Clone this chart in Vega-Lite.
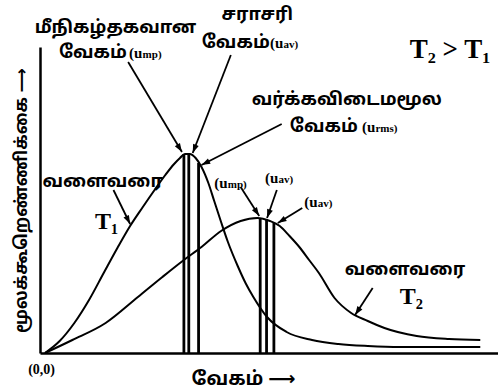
{
  "$schema": "https://vega.github.io/schema/vega-lite/v6.json",
  "width": 458,
  "height": 306,
  "autosize": {"type": "none"},
  "padding": {"left": 40, "top": 47, "right": 0, "bottom": 38},
  "background": "white",
  "config": {
    "view": {"stroke": null},
    "axis": {
      "domain": true, "domainColor": "black", "domainWidth": 2.5,
      "ticks": false, "labels": false, "grid": false,
      "titleFont": "Noto Sans Tamil, DejaVu Sans", "titleFontWeight": "bold", "titleColor": "black",
      "titleAlign": "center", "titleBaseline": "middle"
    }
  },
  "datasets": {
    "curves": [
      {"s": "T1", "x": 0, "y": 0}, {"s": "T1", "x": 15, "y": 12}, {"s": "T1", "x": 30, "y": 30}, {"s": "T1", "x": 45, "y": 53},
      {"s": "T1", "x": 60, "y": 80}, {"s": "T1", "x": 74, "y": 105}, {"s": "T1", "x": 87, "y": 127}, {"s": "T1", "x": 100, "y": 146},
      {"s": "T1", "x": 112, "y": 163}, {"s": "T1", "x": 123, "y": 178}, {"s": "T1", "x": 132, "y": 189}, {"s": "T1", "x": 138, "y": 195},
      {"s": "T1", "x": 143, "y": 199}, {"s": "T1", "x": 148, "y": 199}, {"s": "T1", "x": 154, "y": 195}, {"s": "T1", "x": 160, "y": 186},
      {"s": "T1", "x": 167, "y": 170}, {"s": "T1", "x": 173, "y": 152}, {"s": "T1", "x": 180, "y": 131}, {"s": "T1", "x": 187, "y": 111},
      {"s": "T1", "x": 197, "y": 87}, {"s": "T1", "x": 205, "y": 70}, {"s": "T1", "x": 213, "y": 56}, {"s": "T1", "x": 227, "y": 36},
      {"s": "T1", "x": 247, "y": 21}, {"s": "T1", "x": 273, "y": 13}, {"s": "T1", "x": 300, "y": 9}, {"s": "T1", "x": 330, "y": 7},
      {"s": "T1", "x": 363, "y": 6}, {"s": "T1", "x": 445, "y": 6},
      {"s": "T2", "x": 0, "y": 0}, {"s": "T2", "x": 28, "y": 13}, {"s": "T2", "x": 62, "y": 30}, {"s": "T2", "x": 95, "y": 56},
      {"s": "T2", "x": 120, "y": 76}, {"s": "T2", "x": 142, "y": 93}, {"s": "T2", "x": 160, "y": 106}, {"s": "T2", "x": 180, "y": 122},
      {"s": "T2", "x": 200, "y": 132}, {"s": "T2", "x": 217, "y": 135}, {"s": "T2", "x": 230, "y": 132}, {"s": "T2", "x": 240, "y": 127},
      {"s": "T2", "x": 250, "y": 117}, {"s": "T2", "x": 260, "y": 106}, {"s": "T2", "x": 270, "y": 93}, {"s": "T2", "x": 280, "y": 80},
      {"s": "T2", "x": 296, "y": 55}, {"s": "T2", "x": 313, "y": 40}, {"s": "T2", "x": 330, "y": 32}, {"s": "T2", "x": 347, "y": 25},
      {"s": "T2", "x": 380, "y": 17}, {"s": "T2", "x": 413, "y": 14}, {"s": "T2", "x": 445, "y": 13}
    ],
    "speeds": [
      {"s": "T1", "kind": "ump", "x": 142, "top": 199},
      {"s": "T1", "kind": "uav", "x": 147, "top": 199},
      {"s": "T1", "kind": "urms", "x": 157, "top": 190},
      {"s": "T2", "kind": "ump", "x": 220, "top": 135},
      {"s": "T2", "kind": "uav", "x": 226.5, "top": 133.5},
      {"s": "T2", "kind": "urms", "x": 234, "top": 130}
    ],
    "arrows": [
      {"x": 85, "y": 291, "x2": 140, "y2": 201},
      {"x": 190, "y": 298, "x2": 151, "y2": 200},
      {"x": 242, "y": 229, "x2": 160, "y2": 188},
      {"x": 200, "y": 166, "x2": 219, "y2": 137},
      {"x": 237, "y": 163, "x2": 227, "y2": 135},
      {"x": 263, "y": 145, "x2": 238, "y2": 130},
      {"x": 70, "y": 163, "x2": 87, "y2": 129},
      {"x": 335, "y": 65, "x2": 317, "y2": 38}
    ],
    "tamil": [
      {"x": 72, "y": 325, "t": "மீநிகழ்தகவான"},
      {"x": 49, "y": 300, "t": "வேகம்"},
      {"x": 217, "y": 338, "t": "சராசரி"},
      {"x": 195, "y": 310, "t": "வேகம்"},
      {"x": 308.5, "y": 253, "t": "வர்க்கவிடைமமூல"},
      {"x": 285, "y": 226, "t": "வேகம்"},
      {"x": 59, "y": 171, "t": "வளைவரை"},
      {"x": 368, "y": 83, "t": "வளைவரை"}
    ],
    "symbols": [
      {"x": 86, "y": 295, "head": "(u", "tail": "mp)"},
      {"x": 230, "y": 305, "head": "(u", "tail": "av)"},
      {"x": 324, "y": 221, "head": "(u", "tail": "rms)"},
      {"x": 173, "y": 165, "head": "(u", "tail": "mp)"},
      {"x": 225, "y": 170, "head": "(u", "tail": "av)"},
      {"x": 265, "y": 146, "head": "(u", "tail": "av)"}
    ],
    "temps": [
      {"x": 63, "y": 131, "t": "T₁"},
      {"x": 374.5, "y": 56, "t": "T₂"}
    ],
    "relation": [
      {"x": 414, "y": 303, "t": "T₂ > T₁"}
    ],
    "origin": [
      {"x": -3.5, "y": -17, "t": "(0,0)"}
    ]
  },
  "layer": [
    {
      "data": {"name": "curves"},
      "mark": {"type": "line", "color": "black", "strokeWidth": 2, "interpolate": "monotone"},
      "encoding": {
        "x": {
          "field": "x", "type": "quantitative",
          "scale": {"domain": [0, 458], "nice": false, "zero": false},
          "axis": {"title": "வேகம்  ⟶", "titleFontSize": 19, "titleX": 203, "titleY": 25}
        },
        "y": {
          "field": "y", "type": "quantitative",
          "scale": {"domain": [0, 306], "nice": false, "zero": false},
          "axis": {"title": "மூலக்கூறெண்ணிக்கை ⟶", "titleFontSize": 17, "titleX": -19, "titleY": 153, "titleAngle": 270}
        },
        "detail": {"field": "s", "type": "nominal"}
      }
    },
    {
      "data": {"name": "speeds"},
      "mark": {"type": "bar", "color": "black", "size": 2.8},
      "encoding": {
        "x": {"field": "x", "type": "quantitative"},
        "y": {"field": "top", "type": "quantitative"}
      }
    },
    {
      "data": {"name": "arrows"},
      "mark": {"type": "rule", "color": "black", "strokeWidth": 1.8},
      "encoding": {
        "x": {"field": "x", "type": "quantitative"},
        "y": {"field": "y", "type": "quantitative"},
        "x2": {"field": "x2"},
        "y2": {"field": "y2"}
      }
    },
    {
      "data": {"name": "arrows"},
      "transform": [
        {"calculate": "atan2(datum.x2 - datum.x, datum.y2 - datum.y) * 180 / PI", "as": "ang"}
      ],
      "mark": {"type": "point", "shape": "M0,0L-1,2.9L1,2.9Z", "filled": true, "color": "black", "size": 36, "opacity": 1, "strokeWidth": 0},
      "encoding": {
        "x": {"field": "x2", "type": "quantitative"},
        "y": {"field": "y2", "type": "quantitative"},
        "angle": {"field": "ang", "type": "quantitative", "scale": null}
      }
    },
    {
      "data": {"name": "tamil"},
      "mark": {"type": "text", "font": "Noto Sans Tamil, Noto Sans", "fontWeight": "bold", "fontSize": 18, "color": "black", "align": "center", "baseline": "middle"},
      "encoding": {
        "x": {"field": "x", "type": "quantitative"},
        "y": {"field": "y", "type": "quantitative"},
        "text": {"field": "t", "type": "nominal"}
      }
    },
    {
      "data": {"name": "symbols"},
      "mark": {"type": "text", "font": "Liberation Serif", "fontWeight": "bold", "fontSize": 15, "color": "black", "align": "left", "baseline": "alphabetic"},
      "encoding": {
        "x": {"field": "x", "type": "quantitative"},
        "y": {"field": "y", "type": "quantitative"},
        "text": {"field": "head", "type": "nominal"}
      }
    },
    {
      "data": {"name": "symbols"},
      "mark": {"type": "text", "font": "Liberation Serif", "fontWeight": "bold", "fontSize": 11, "color": "black", "align": "left", "baseline": "alphabetic", "dx": 13.5},
      "encoding": {
        "x": {"field": "x", "type": "quantitative"},
        "y": {"field": "y", "type": "quantitative"},
        "text": {"field": "tail", "type": "nominal"}
      }
    },
    {
      "data": {"name": "temps"},
      "mark": {"type": "text", "font": "Liberation Serif", "fontWeight": "bold", "fontSize": 24, "color": "black", "align": "center", "baseline": "middle"},
      "encoding": {
        "x": {"field": "x", "type": "quantitative"},
        "y": {"field": "y", "type": "quantitative"},
        "text": {"field": "t", "type": "nominal"}
      }
    },
    {
      "data": {"name": "relation"},
      "mark": {"type": "text", "font": "Liberation Serif", "fontWeight": "bold", "fontSize": 27, "color": "black", "align": "center", "baseline": "middle"},
      "encoding": {
        "x": {"field": "x", "type": "quantitative"},
        "y": {"field": "y", "type": "quantitative"},
        "text": {"field": "t", "type": "nominal"}
      }
    },
    {
      "data": {"name": "origin"},
      "mark": {"type": "text", "font": "Liberation Serif", "fontWeight": "bold", "fontSize": 14, "color": "black", "align": "center", "baseline": "middle"},
      "encoding": {
        "x": {"field": "x", "type": "quantitative"},
        "y": {"field": "y", "type": "quantitative"},
        "text": {"field": "t", "type": "nominal"}
      }
    }
  ]
}
